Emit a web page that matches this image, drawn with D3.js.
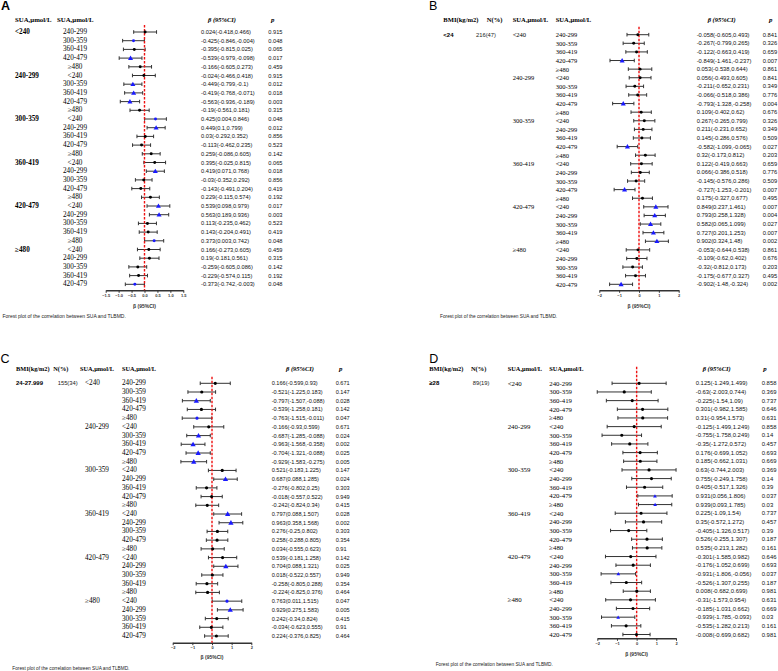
<!DOCTYPE html>
<html>
<head>
<meta charset="utf-8">
<script src="https://cdn.jsdelivr.net/npm/d3@7"></script>
<style>
  body { margin: 0; background: #fff; }
</style>
</head>
<body>
<svg id="chart" width="778" height="671"></svg>
<script>
// SUA categories; each group lists the other five categories in order
const suaCats = ["<240", "240-299", "300-359", "360-419", "420-479", "≥480"];
const bmiStrata = ["<24", "24-27.999", "≥28"];
const bmiN = ["216(47)", "155(34)", "89(19)"];
const ticksA = [-1.5, -1, -0.5, 0, 0.5, 1, 1.5];
const ticksBMI = [-2, -1, 0, 1, 2];

// A: all participants
const betaA = [0.024,-0.425,-0.395,-0.539,-0.166, -0.024,-0.449,-0.419,-0.563,-0.19, 0.425,0.449,0.03,-0.113,0.259, 0.395,0.419,-0.03,-0.143,0.229, 0.539,0.563,0.113,0.143,0.373, 0.166,0.19,-0.259,-0.229,-0.373];
const lowA = [-0.418,-0.846,-0.815,-0.979,-0.605, -0.466,-0.799,-0.768,-0.936,-0.561, 0.004,0.1,-0.292,-0.462,-0.086, -0.025,0.071,-0.352,-0.491,-0.115, 0.098,0.189,-0.235,-0.204,0.003, -0.273,-0.181,-0.605,-0.574,-0.742];
const highA = [0.466,-0.004,0.025,-0.098,0.273, 0.418,-0.1,-0.071,-0.189,0.181, 0.846,0.799,0.352,0.235,0.605, 0.815,0.768,0.292,0.204,0.574, 0.979,0.936,0.462,0.491,0.742, 0.605,0.561,0.086,0.115,-0.003];
const pA = [0.915,0.048,0.065,0.017,0.459, 0.915,0.012,0.018,0.003,0.315, 0.048,0.012,0.856,0.523,0.142, 0.065,0.018,0.856,0.419,0.192, 0.017,0.003,0.523,0.419,0.048, 0.459,0.315,0.142,0.192,0.048];

// B: BMI < 24
const betaB = [-0.058,-0.267,-0.122,-0.849,0.053, 0.056,-0.211,-0.066,-0.793,0.109, 0.267,0.211,0.145,-0.582,0.32, 0.122,0.066,-0.145,-0.727,0.175, 0.849,0.793,0.582,0.727,0.902, -0.053,-0.109,-0.32,-0.175,-0.902];
const lowB = [-0.605,-0.799,-0.663,-1.461,-0.538, -0.493,-0.652,-0.518,-1.328,-0.402, -0.265,-0.231,-0.286,-1.099,-0.173, -0.419,-0.386,-0.576,-1.253,-0.327, 0.237,0.258,0.065,0.201,0.324, -0.644,-0.62,-0.812,-0.677,-1.48];
const highB = [0.493,0.265,0.419,-0.237,0.644, 0.605,0.231,0.386,-0.258,0.62, 0.799,0.652,0.576,-0.065,0.812, 0.663,0.518,0.286,-0.201,0.677, 1.461,1.328,1.099,1.253,1.48, 0.538,0.402,0.173,0.327,-0.324];
const pB = [0.841,0.326,0.659,0.007,0.861, 0.841,0.349,0.776,0.004,0.676, 0.326,0.349,0.509,0.027,0.203, 0.659,0.776,0.509,0.007,0.495, 0.007,0.004,0.027,0.007,0.002, 0.861,0.676,0.203,0.495,0.002];

// C: BMI 24-27.999
const betaC = [0.166,-0.521,-0.797,-0.539,-0.763, -0.166,-0.687,-0.963,-0.704,-0.929, 0.521,0.687,-0.276,-0.018,-0.242, 0.797,0.963,0.276,0.258,0.034, 0.539,0.704,0.018,-0.258,-0.224, 0.763,0.929,0.242,-0.034,0.224];
const lowC = [-0.599,-1.225,-1.507,-1.258,-1.515, -0.93,-1.285,-1.568,-1.321,-1.583, -0.183,0.088,-0.802,-0.557,-0.824, 0.088,0.358,-0.25,-0.288,-0.555, -0.181,0.088,-0.522,-0.805,-0.825, 0.011,0.275,-0.34,-0.623,-0.376];
const highC = [0.93,0.183,-0.088,0.181,-0.011, 0.599,-0.088,-0.358,-0.088,-0.275, 1.225,1.285,0.25,0.522,0.34, 1.507,1.568,0.802,0.805,0.623, 1.258,1.321,0.557,0.288,0.376, 1.515,1.583,0.824,0.555,0.825];
const pC = [0.671,0.147,0.028,0.142,0.047, 0.671,0.024,0.002,0.025,0.005, 0.147,0.024,0.303,0.949,0.415, 0.028,0.002,0.303,0.354,0.91, 0.142,0.025,0.949,0.354,0.464, 0.047,0.005,0.415,0.91,0.464];

// D: BMI >= 28
const betaD = [0.125,-0.63,-0.225,0.301,0.31, -0.125,-0.755,-0.35,0.176,0.185, 0.63,0.755,0.405,0.931,0.939, 0.225,0.35,-0.405,0.526,0.535, -0.301,-0.176,-0.931,-0.526,0.008, -0.31,-0.185,-0.939,-0.535,-0.008];
const lowD = [-1.249,-2.003,-1.54,-0.982,-0.954, -1.499,-1.758,-1.272,-0.699,-0.662, -0.744,-0.249,-0.517,0.056,0.093, -1.09,-0.572,-1.326,-0.255,-0.213, -1.585,-1.052,-1.806,-1.307,-0.682, -1.573,-1.031,-1.785,-1.282,-0.699];
const highD = [1.499,0.744,1.09,1.585,1.573, 1.249,0.249,0.572,1.052,1.031, 2.003,1.758,1.326,1.806,1.785, 1.54,1.272,0.517,1.307,1.282, 0.982,0.699,-0.056,0.255,0.699, 0.954,0.662,-0.093,0.213,0.682];
const pD = [0.858,0.369,0.737,0.646,0.631, 0.858,0.14,0.457,0.693,0.669, 0.369,0.14,0.39,0.037,0.03, 0.737,0.457,0.39,0.187,0.161, 0.646,0.693,0.037,0.187,0.981, 0.631,0.669,0.03,0.161,0.981];

const serif = "'Liberation Serif','Times New Roman',serif";
const sans = "'Liberation Sans',Arial,sans-serif";
const caption = "Forest plot of the correlation between SUA and TLBMD.";
const svg = d3.select("#chart");
svg.append("rect").attr("width", 778).attr("height", 671).attr("fill", "#fff");

function buildRows(beta, low, high, p){
    let rows = [];
    suaCats.forEach(g => {
        suaCats.filter(c => c !== g).forEach((c, ci) => {
            let i = rows.length;
            rows.push({i: i, group: g, first: ci === 0, label: c,
                beta: beta[i], low: low[i], high: high[i], p: p[i]});
        });
    });
    return rows;
}

function drawPanel(cfg){
    const g = svg.append("g");
    const rows = buildRows(cfg.beta, cfg.low, cfg.high, cfg.p);
    const x = d3.scaleLinear().domain(cfg.domain).range(cfg.xRange);
    const y = d3.scalePoint().domain(rows.map(r => r.i)).range([cfg.row0, cfg.rowN]);

    // panel letter
    g.append("text").attr("x", cfg.letterX).attr("y", cfg.letterY)
        .attr("font-family", sans).attr("font-size", 12.5)
        .attr("font-weight", cfg.letter === "A" ? "bold" : "normal")
        .text(cfg.letter);

    // column headers
    cfg.heads.forEach(h => {
        g.append("text").attr("x", h.x).attr("y", cfg.headY)
            .attr("font-family", serif).attr("font-weight", "bold").attr("font-size", cfg.headSize)
            .attr("dominant-baseline", "central").text(h.t);
    });
    g.append("text").attr("x", cfg.betaHeadX).attr("y", cfg.headY)
        .attr("text-anchor", "middle").attr("dominant-baseline", "central")
        .attr("font-family", serif).attr("font-weight", "bold").attr("font-style", "italic")
        .attr("font-size", 6.5).text("β (95%CI)");
    g.append("text").attr("x", cfg.pHeadX).attr("y", cfg.headY)
        .attr("dominant-baseline", "central")
        .attr("font-family", serif).attr("font-weight", "bold").attr("font-style", "italic")
        .attr("font-size", 6.8).text("p");

    // BMI stratum and N
    if(cfg.stratum){
        g.append("text").attr("x", cfg.stratumX).attr("y", cfg.row0)
            .attr("dominant-baseline", "central").attr("font-family", sans)
            .attr("font-weight", "bold").attr("font-size", 6).text(cfg.stratum);
        g.append("text").attr("x", cfg.nX).attr("y", cfg.row0)
            .attr("dominant-baseline", "central").attr("font-family", sans)
            .attr("font-size", 5.8).attr("fill", "#222").text(cfg.n);
    }

    // group labels
    g.selectAll(".grp").data(rows.filter(r => r.first)).enter().append("text")
        .attr("x", cfg.groupX).attr("y", r => y(r.i))
        .attr("dominant-baseline", "central").attr("font-family", serif)
        .attr("font-weight", cfg.groupBold ? "bold" : "normal")
        .attr("font-size", cfg.labelSize).text(r => r.group);

    // sub labels
    g.selectAll(".sub").data(rows).enter().append("text")
        .attr("x", cfg.subX).attr("y", r => y(r.i))
        .attr("text-anchor", cfg.subAnchor)
        .attr("dominant-baseline", "central").attr("font-family", serif)
        .attr("font-size", cfg.labelSize).text(r => r.label);

    // beta text and p text
    g.selectAll(".val").data(rows).enter().append("text")
        .attr("x", cfg.valX).attr("y", r => y(r.i))
        .attr("dominant-baseline", "central").attr("font-family", sans)
        .attr("font-size", cfg.valSize).attr("fill", "#111")
        .text(r => r.beta + "(" + r.low + "," + r.high + ")");
    g.selectAll(".pv").data(rows).enter().append("text")
        .attr("x", cfg.pX).attr("y", r => y(r.i))
        .attr("dominant-baseline", "central").attr("font-family", sans)
        .attr("font-size", cfg.valSize).attr("fill", "#111")
        .text(r => r.p);

    // axis
    const axis = d3.axisBottom(x).tickValues(cfg.ticks).tickSize(2.5).tickSizeOuter(0).tickPadding(1.2)
        .tickFormat(cfg.tickFmt);
    const ax = g.append("g").attr("transform", "translate(0," + cfg.axisY + ")").call(axis);
    ax.select(".domain").attr("stroke", "#333").attr("stroke-width", 1.4);
    ax.selectAll(".tick line").attr("stroke", "#333").attr("stroke-width", 1);
    ax.selectAll(".tick text").attr("font-family", sans).attr("font-weight", "bold")
        .attr("font-size", 4).attr("fill", "#333");
    g.append("text").attr("x", x(0)).attr("y", cfg.axisY + cfg.axisLabelDy)
        .attr("text-anchor", "middle").attr("dominant-baseline", "central")
        .attr("font-family", sans).attr("font-weight", "bold").attr("font-size", 5)
        .attr("fill", "#333").text("β (95%CI)");

    // confidence intervals
    const ci = g.selectAll(".ci").data(rows).enter().append("g").attr("stroke", "#333").attr("stroke-width", 1);
    ci.append("line").attr("x1", r => x(r.low)).attr("x2", r => x(r.high))
        .attr("y1", r => y(r.i)).attr("y2", r => y(r.i));
    ci.append("line").attr("x1", r => x(r.low)).attr("x2", r => x(r.low))
        .attr("y1", r => y(r.i) - 1.8).attr("y2", r => y(r.i) + 1.8);
    ci.append("line").attr("x1", r => x(r.high)).attr("x2", r => x(r.high))
        .attr("y1", r => y(r.i) - 1.8).attr("y2", r => y(r.i) + 1.8);

    // reference line at zero
    g.append("line").attr("x1", x(0)).attr("x2", x(0))
        .attr("y1", cfg.refTop).attr("y2", cfg.axisY)
        .attr("stroke", "#ee1111").attr("stroke-width", 1.4).attr("stroke-dasharray", "2.6,1.4");

    // markers: blue triangle for p<0.045, blue dot for p<0.05, black dot otherwise
    g.selectAll(".mk").data(rows).enter().append("path")
        .attr("transform", r => "translate(" + x(r.beta) + "," + (y(r.i) + (r.p < 0.045 ? 0.4 : 0)) + ")")
        .attr("d", r => r.p < 0.045
            ? d3.symbol().type(d3.symbolTriangle).size(cfg.triSize)()
            : d3.symbol().type(d3.symbolCircle).size(cfg.dotSize)())
        .attr("fill", r => r.p < 0.05 ? "#1a1aff" : "#000");

    // caption
    g.append("text").attr("x", cfg.capX).attr("y", cfg.capY)
        .attr("dominant-baseline", "central").attr("font-family", sans)
        .attr("font-size", cfg.capSize).attr("fill", "#222").text(caption);
}

const fmt1 = d3.format(".1f");
const fmt0 = d3.format("d");

drawPanel({letter: "A", letterX: 1, letterY: 9.5,
    beta: betaA, low: lowA, high: highA, p: pA,
    domain: [-1.5, 1.5], xRange: [105.7, 183.3], ticks: ticksA, tickFmt: fmt1,
    row0: 32, rowN: 284.3, headY: 19, axisY: 290.3, axisLabelDy: 15.5, refTop: 25,
    heads: [{t: "SUA,μmol/L", x: 15}, {t: "SUA,μmol/L", x: 57}], headSize: 6.8,
    betaHeadX: 222, pHeadX: 271,
    groupX: 15, groupBold: true, subX: 75, subAnchor: "middle", labelSize: 7.2,
    valX: 201, pX: 268.3, valSize: 5.7, triSize: 11, dotSize: 7,
    capX: 2.5, capY: 316.3, capSize: 5});

drawPanel({letter: "B", letterX: 429, letterY: 10,
    beta: betaB, low: lowB, high: highB, p: pB,
    domain: [-2, 2], xRange: [599.3, 678.7], ticks: ticksBMI, tickFmt: fmt0,
    row0: 34.7, rowN: 284.3, headY: 19, axisY: 290.3, axisLabelDy: 15.7, refTop: 26.7,
    heads: [{t: "BMI(kg/m2)", x: 443.3}, {t: "N(%)", x: 486.7}, {t: "SUA,μmol/L", x: 512.7}, {t: "SUA,μmol/L", x: 555.7}], headSize: 6.6,
    betaHeadX: 721.7, pHeadX: 769,
    stratum: bmiStrata[0], stratumX: 443.3, n: bmiN[0], nX: 476,
    groupX: 512.7, groupBold: false, subX: 555.7, subAnchor: "start", labelSize: 6.5,
    valX: 696.7, pX: 762.7, valSize: 5.8, triSize: 11, dotSize: 7,
    capX: 440, capY: 316.3, capSize: 4.75});

drawPanel({letter: "C", letterX: 0.5, letterY: 363.3,
    beta: betaC, low: lowC, high: highC, p: pC,
    domain: [-2, 2], xRange: [172.7, 251.3], ticks: ticksBMI, tickFmt: fmt0,
    row0: 383.3, rowN: 636, headY: 368.7, axisY: 642.7, axisLabelDy: 14.3, refTop: 376.7,
    heads: [{t: "BMI(kg/m2)", x: 16}, {t: "N(%)", x: 53.3}, {t: "SUA,μmol/L", x: 80}, {t: "SUA,μmol/L", x: 122}], headSize: 6.3,
    betaHeadX: 300, pHeadX: 339,
    stratum: bmiStrata[1], stratumX: 16, n: bmiN[1], nX: 57.7,
    groupX: 85, groupBold: false, subX: 122, subAnchor: "start", labelSize: 7.2,
    valX: 271.7, pX: 335.7, valSize: 5.6, triSize: 12, dotSize: 8,
    capX: 12.3, capY: 668.3, capSize: 4.75});

drawPanel({letter: "D", letterX: 429.3, letterY: 363.3,
    beta: betaD, low: lowD, high: highD, p: pD,
    domain: [-2, 2], xRange: [597.3, 676], ticks: ticksBMI, tickFmt: fmt0,
    row0: 383.3, rowN: 634.5, headY: 368.7, axisY: 638.3, axisLabelDy: 16, refTop: 366.7,
    heads: [{t: "BMI(kg/m2)", x: 429.3}, {t: "N(%)", x: 471}, {t: "SUA,μmol/L", x: 507.7}, {t: "SUA,μmol/L", x: 549.3}], headSize: 6.4,
    betaHeadX: 716.7, pHeadX: 763.3,
    stratum: bmiStrata[2], stratumX: 429.3, n: bmiN[2], nX: 472.7,
    groupX: 507.7, groupBold: false, subX: 549.3, subAnchor: "start", labelSize: 6.8,
    valX: 695.7, pX: 761.7, valSize: 5.9, triSize: 6, dotSize: 8,
    capX: 435.7, capY: 664.3, capSize: 4.75});
</script>
</body>
</html>
